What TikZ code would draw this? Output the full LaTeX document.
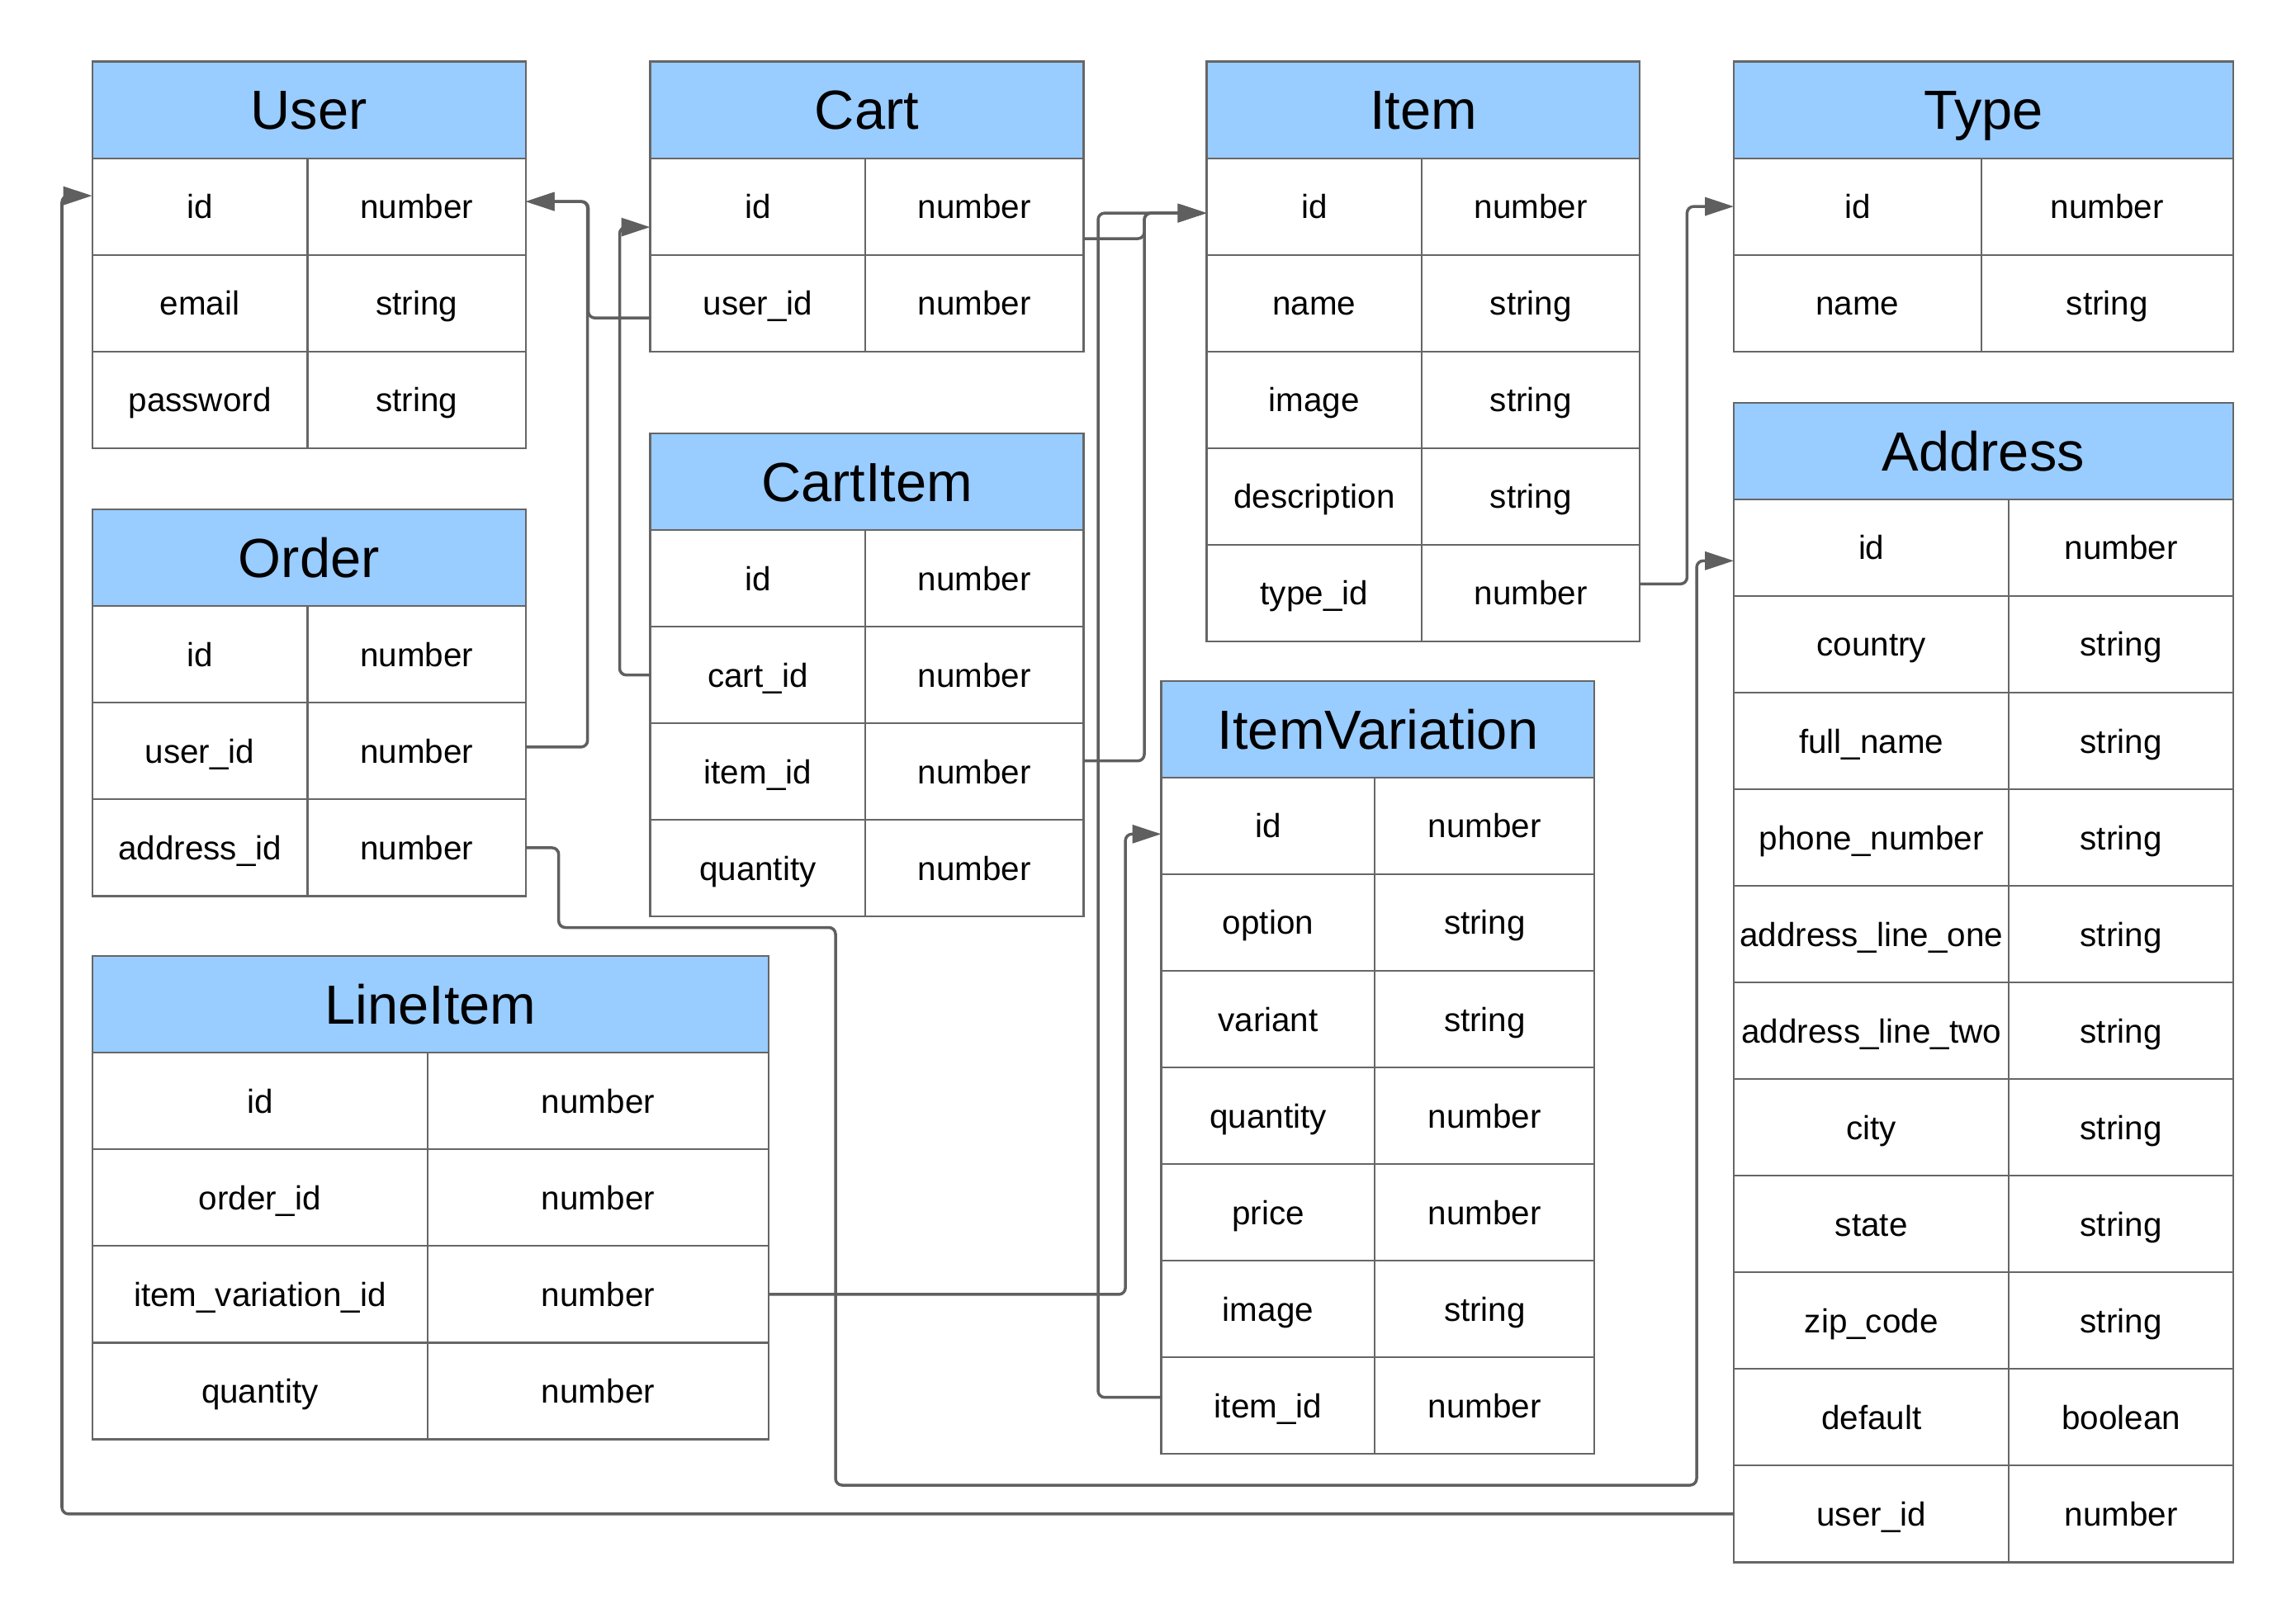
\documentclass[tikz,border=0pt]{standalone}
\usepackage{fontspec}
\setmainfont{Liberation Sans}
\usetikzlibrary{arrows.meta, positioning, calc}

\definecolor{headblue}{HTML}{99CCFF}
\definecolor{linegray}{HTML}{666666}
\definecolor{wiregray}{HTML}{5F5F5F}

% table head: name, left, split, right, top, title
\newcommand{\ertable}[6]{%
  \def\tabN{#1}\def\tabL{#2}\def\tabS{#3}\def\tabR{#4}\def\tabT{#5}%
  \node[thead, minimum width={(#4-#2)*1cm}] (#1) at (#2,-#5) {#6};}
% table row: index, field, type
\newcommand{\erow}[3]{%
  \node[tcell, minimum width={(\tabS-\tabL)*1cm}] (\tabN-#1) at ({\tabL},{-(\tabT+#1*1.1706)}) {#2};
  \node[tcell, minimum width={(\tabR-\tabS)*1cm}] (\tabN-#1t) at ({\tabS},{-(\tabT+#1*1.1706)}) {#3};}

\begin{document}
\begin{tikzpicture}

		\tikzstyle{thead}=[draw=linegray, line width=0.6pt, fill=headblue, anchor=north west, inner sep=0pt, outer sep=0pt, minimum height=1.1706cm, text height=13.6pt, text depth=0pt, font=\fontsize{19}{23}\selectfont]
		\tikzstyle{tcell}=[draw=linegray, line width=0.6pt, fill=white, anchor=north west, inner sep=0pt, outer sep=0pt, minimum height=1.1706cm, text height=8.3pt, text depth=0pt, font=\fontsize{11.5}{14}\selectfont]
		\tikzstyle{fk}=[draw=wiregray, line width=1pt, rounded corners=0.08cm, -{Triangle[length=0.35cm, width=0.22cm]}]

		\useasboundingbox (0,0) rectangle (27.81,-19.65);

		\ertable{user}{1.117}{3.725}{6.367}{0.745}{User}
		\erow{1}{id}{number}
		\erow{2}{email}{string}
		\erow{3}{password}{string}

		\ertable{cart}{7.875}{10.482}{13.125}{0.745}{Cart}
		\erow{1}{id}{number}
		\erow{2}{user\_id}{number}

		\ertable{item}{14.615}{17.222}{19.864}{0.745}{Item}
		\erow{1}{id}{number}
		\erow{2}{name}{string}
		\erow{3}{image}{string}
		\erow{4}{description}{string}
		\erow{5}{type\_id}{number}

		\ertable{type}{21.0}{23.997}{27.047}{0.745}{Type}
		\erow{1}{id}{number}
		\erow{2}{name}{string}

		\ertable{address}{21.0}{24.334}{27.047}{4.877}{Address}
		\erow{1}{id}{number}
		\erow{2}{country}{string}
		\erow{3}{full\_name}{string}
		\erow{4}{phone\_number}{string}
		\erow{5}{address\_line\_one}{string}
		\erow{6}{address\_line\_two}{string}
		\erow{7}{city}{string}
		\erow{8}{state}{string}
		\erow{9}{zip\_code}{string}
		\erow{10}{default}{boolean}
		\erow{11}{user\_id}{number}

		\ertable{order}{1.117}{3.725}{6.367}{6.172}{Order}
		\erow{1}{id}{number}
		\erow{2}{user\_id}{number}
		\erow{3}{address\_id}{number}

		\ertable{cartitem}{7.875}{10.482}{13.125}{5.25}{CartItem}
		\erow{1}{id}{number}
		\erow{2}{cart\_id}{number}
		\erow{3}{item\_id}{number}
		\erow{4}{quantity}{number}

		\ertable{itemvar}{14.065}{16.654}{19.314}{8.247}{ItemVariation}
		\erow{1}{id}{number}
		\erow{2}{option}{string}
		\erow{3}{variant}{string}
		\erow{4}{quantity}{number}
		\erow{5}{price}{number}
		\erow{6}{image}{string}
		\erow{7}{item\_id}{number}

		\ertable{lineitem}{1.117}{5.179}{9.311}{11.582}{LineItem}
		\erow{1}{id}{number}
		\erow{2}{order\_id}{number}
		\erow{3}{item\_variation\_id}{number}
		\erow{4}{quantity}{number}

		% foreign keys
		\draw[fk] ([yshift=-0.18cm]cart-2.west) -- ++(-0.75,0) |- ([yshift=0.06cm]user-1t.east);
		\draw[fk] ([yshift=0.05cm]order-2t.east) -- ++(0.75,0) |- ([yshift=0.06cm]user-1t.east);
		\draw[fk] (cartitem-2.west) -- ++(-0.37,0) |- ([yshift=-0.25cm]cart-1.west);
		\draw[fk] ([yshift=-0.39cm]cart-1t.east) -- ++(0.735,0) |- ([yshift=-0.08cm]item-1.west);
		\draw[fk] ([yshift=0.13cm]cartitem-3t.east) -- ++(0.735,0) |- ([yshift=-0.08cm]item-1.west);
		\draw[fk] ([yshift=0.1cm]itemvar-7.west) -- ++(-0.765,0) |- ([yshift=-0.08cm]item-1.west);
		\draw[fk] (lineitem-3t.east) -- ++(4.32,0) |- ([yshift=-0.1cm]itemvar-1.west);
		\draw[fk] (order-3t.east) -- ++(0.4,0) |- (10.12,-11.235) |- (20.55,-17.99) |- ([yshift=-0.16cm]address-1.west);
		\draw[fk] (address-11.west) -- ++(-20.25,0) |- ([yshift=0.13cm]user-1.west);
		\draw[fk] ([yshift=0.11cm]item-5t.east) -- ++(0.57,0) |- (type-1.west);

\end{tikzpicture}
\end{document}
